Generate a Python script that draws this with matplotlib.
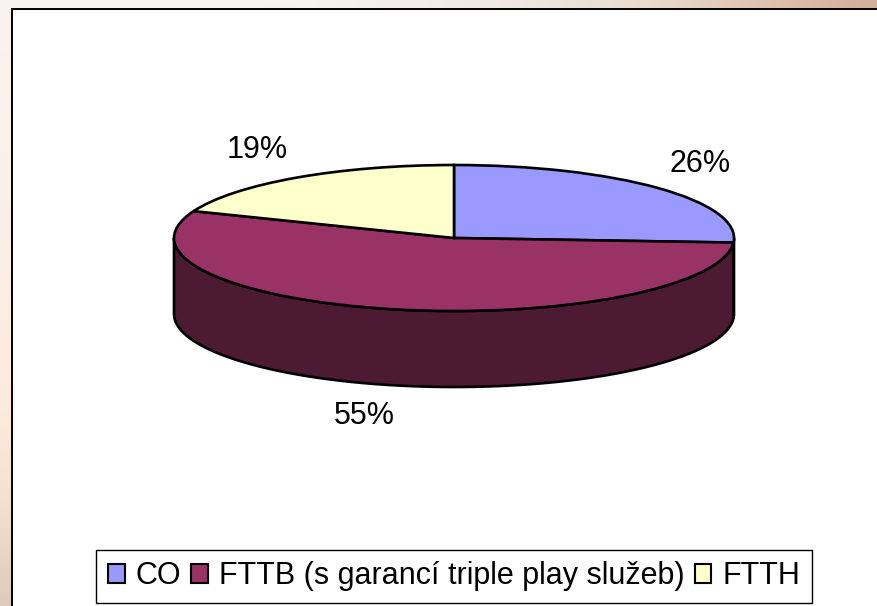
import numpy as np
import matplotlib
matplotlib.use('Agg')
import matplotlib.pyplot as plt
from matplotlib.patches import Rectangle

plt.rcParams['font.family'] = ['Liberation Sans', 'DejaVu Sans']

W, H = 878, 606

categories = ['CO', 'FTTB (s garancí triple play služeb)', 'FTTH']
values = [26, 55, 19]
colors = ['#9999FF', '#993366', '#FFFFCC']
side_colors = ['#4C4C80', '#4C1A33', '#808066']

# pie geometry in pixels
cx, cy = 454, 238
rx, ry = 280, 73
depth = 76

fig = plt.figure(figsize=(W / 100, H / 100), dpi=100)

# slide background, only the strips on top and left stay visible
bg = fig.add_axes([0, 0, 1, 1])
row_x = [0, 300, 500, 650, 780, 878]
row_c = np.array([[248, 244, 240], [248, 243, 239], [240, 232, 228], [232, 220, 204], [222, 190, 172], [210, 174, 156]]) / 255
col_y = [0, 200, 400, 500, 606]
col_c = np.array([[248, 244, 240], [250, 240, 233], [253, 235, 221], [245, 225, 208], [222, 202, 184]]) / 255
xs = np.arange(W)
ys = np.arange(H)
top_row = np.stack([np.interp(xs, row_x, row_c[:, i]) for i in range(3)], axis=1)
left_col = np.stack([np.interp(ys, col_y, col_c[:, i]) for i in range(3)], axis=1)
img = np.clip(top_row[None, :, :] * left_col[:, None, :] / row_c[0], 0, 1)
bg.imshow(img, aspect='auto')
bg.axis('off')
bg.add_patch(Rectangle((11.5, 8), W, H, fc='white', ec='black', lw=1.4))

# one data unit is rx pixels across and ry pixels down
ax = fig.add_axes([0, 0, 1, 1])
ax.patch.set_alpha(0)
ax.axis('off')
drop = depth / ry

# side wall first, only the part facing the viewer
ends = np.cumsum(values) / sum(values) * 360
starts = np.r_[0, ends[:-1]]
for s, e, c in zip(starts, ends, side_colors):
    a, b = max(s, 90), min(e, 270)
    if a >= b:
        continue
    ang = np.radians(np.linspace(a, b, 120))
    x = np.sin(ang)
    y = np.cos(ang)
    ax.fill(np.r_[x, x[::-1]], np.r_[y, y[::-1] - drop], fc=c, ec='black', lw=1.9, zorder=1)

ax.pie(values, colors=colors, startangle=90, counterclock=False,
       wedgeprops={'edgecolor': 'black', 'linewidth': 1.9, 'zorder': 2})
ax.set_aspect('auto')
ax.set_xlim((0 - cx) / rx, (W - cx) / rx)
ax.set_ylim((cy - H) / ry, cy / ry)

labels = ['%d%%' % v for v in values]
label_pos = [(700, 164), (364, 416), (257, 150)]
for txt, (px, py) in zip(labels, label_pos):
    ax.text((px - cx) / rx, (cy - py) / ry, txt, fontsize=22, ha='center', va='center', zorder=3)

handles = [Rectangle((0, 0), 1, 1, fc=c, ec='black', lw=1.5) for c in colors]
leg = fig.legend(handles, categories, loc='lower left',
                 bbox_to_anchor=(96.5 / W, (H - 603) / H),
                 ncol=3, fontsize=22, frameon=True, fancybox=False, edgecolor='black',
                 framealpha=1, handlelength=0.55, handleheight=0.55, handletextpad=0.35,
                 columnspacing=0.33, borderpad=0.38, borderaxespad=0)
leg.get_frame().set_linewidth(1.0)

fig.savefig('out.png', dpi=100)
